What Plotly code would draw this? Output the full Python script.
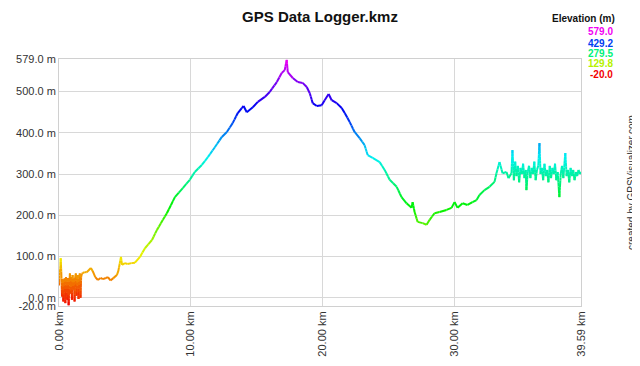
import colorsys
import plotly.graph_objects as go

dist_km = [
    0.00, 0.05, 0.10, 0.13, 0.18, 0.23, 0.28, 0.33, 0.38, 0.43, 0.48, 0.53, 0.58, 0.63,
    0.68, 0.73, 0.78, 0.83, 0.88, 0.93, 0.98, 1.03, 1.08, 1.13, 1.18, 1.23, 1.28, 1.33,
    1.38, 1.43, 1.48, 1.53, 1.58, 1.63, 1.68, 1.74,
    1.80, 1.95, 2.10, 2.42, 2.55, 2.75, 2.95, 3.15, 3.33, 3.55, 3.71, 3.90, 4.10, 4.39,
    4.50, 4.70, 4.78, 5.00, 5.20, 5.50, 5.76, 6.14, 6.52, 7.05, 7.42, 7.88, 8.18, 8.79,
    9.39, 9.92, 10.30, 10.83, 11.29, 11.82, 12.35, 12.73, 13.18, 13.56, 13.86, 14.00,
    14.24, 14.70, 15.08, 15.61, 15.98, 16.52, 16.89, 17.12, 17.27, 17.35, 17.73, 18.11,
    18.48, 18.79, 19.02, 19.24, 19.55, 19.92, 20.15, 20.45, 20.68, 21.06, 21.44, 21.67,
    22.05, 22.42, 22.80, 23.18, 23.41, 23.79, 24.32, 24.70, 25.08, 25.61, 25.98, 26.36,
    26.74, 26.82, 26.97, 27.20, 27.58, 27.88, 28.11, 28.48, 28.86, 29.39, 29.77, 30.00,
    30.23, 30.61, 30.98, 31.36, 31.67, 31.89, 32.27, 32.65, 33.03, 33.18, 33.41, 33.64,
    33.94, 34.09, 34.32, 34.39,
    34.50, 34.60, 34.70, 34.80, 34.90, 35.00, 35.10, 35.20, 35.30, 35.40, 35.45, 35.55,
    35.65, 35.75, 35.85, 35.95, 36.05, 36.15, 36.25, 36.35, 36.44, 36.52, 36.62, 36.72,
    36.82, 36.92, 37.02, 37.12, 37.22, 37.32, 37.42, 37.52, 37.62, 37.72, 37.82, 37.95,
    38.05, 38.15, 38.25, 38.40, 38.50, 38.60, 38.70, 38.80, 38.90, 39.00, 39.10, 39.20,
    39.30, 39.40, 39.50, 39.59,
]

elev_m = [
    30, 62, 70, 96, 55, 3, 45, -9, 40, 47, -13, 50, 39, -5,
    48, -18, 30, 59, 10, 50, -5, 55, 20, 47, -9, 50, 59, 5,
    45, 55, -3, 40, 59, 0, 50, 59,
    60, 62, 62, 72, 65, 50, 43, 48, 45, 48, 50, 42, 47, 55,
    65, 99, 80, 84, 82, 84, 85, 99, 120, 140, 164, 189, 205, 244,
    266, 286, 305, 322, 341, 365, 390, 402, 424, 448, 460, 465,
    450, 462, 475, 487, 499, 523, 545, 552, 577, 547, 533, 523,
    521, 511, 496, 472, 465, 467, 479, 494, 479, 472, 460, 448,
    426, 402, 387, 370, 346, 339, 329, 310, 286, 269, 244, 229,
    218, 232, 208, 184, 181, 177, 189, 205, 208, 213, 218, 232,
    218, 229, 225, 232, 237, 249, 261, 269, 281, 302, 329, 302,
    305, 290, 302, 358,
    285, 330, 295, 320, 280, 315, 300, 325, 290, 310, 261, 305,
    320, 290, 315, 300, 330, 285, 310, 320, 375, 300, 315, 285,
    325, 295, 310, 280, 320, 290, 315, 300, 325, 285, 305, 244,
    300, 320, 290, 351, 295, 310, 280, 315, 295, 310, 285, 305,
    295, 310, 300, 305,
]

y_tick_vals = [-20, 0, 100, 200, 300, 400, 500, 579]
y_tick_text = ["-20.0 m", "0.0 m", "100.0 m", "200.0 m", "300.0 m", "400.0 m", "500.0 m", "579.0 m"]
x_tick_vals = [0, 10, 20, 30, 39.59]
x_tick_text = ["0.00 km", "10.00 km", "20.00 km", "30.00 km", "39.59 km"]
legend_vals = [579.0, 429.2, 279.5, 129.8, -20.0]

E_MIN, E_MAX = -20.0, 579.0


def elev_color(e, v=0.95):
    t = min(max((e - E_MIN) / (E_MAX - E_MIN), 0), 1)
    r, g, b = colorsys.hsv_to_rgb(t * 300 / 360, 1.0, v)
    return "rgb(%d,%d,%d)" % (r * 255, g * 255, b * 255)


# colour each line segment by elevation; long vertical segments are drawn in
# several colour steps so the gradient follows the height (same straight line)
NBINS = 60
bins = {}
for i in range(len(dist_km) - 1):
    x0, x1 = dist_km[i], dist_km[i + 1]
    y0, y1 = elev_m[i], elev_m[i + 1]
    n = max(1, int(abs(y1 - y0) // 8))
    for k in range(n):
        a, c = k / n, (k + 1) / n
        xa, xb = x0 + (x1 - x0) * a, x0 + (x1 - x0) * c
        ya, yb = y0 + (y1 - y0) * a, y0 + (y1 - y0) * c
        mid = (ya + yb) / 2
        b = int(min(max((mid - E_MIN) / (E_MAX - E_MIN), 0), 0.9999) * NBINS)
        xs, ys = bins.setdefault(b, ([], []))
        xs += [xa, xb, None]
        ys += [ya, yb, None]

fig = go.Figure()
for b in sorted(bins):
    xs, ys = bins[b]
    e = E_MIN + (b + 0.5) / NBINS * (E_MAX - E_MIN)
    fig.add_trace(go.Scatter(x=xs, y=ys, mode="lines",
                             line=dict(color=elev_color(e), width=2),
                             hoverinfo="skip", showlegend=False, connectgaps=False))

font = "Liberation Sans, Arial, sans-serif"
# the page body adds an 8px margin, so the figure is drawn 8px in from the corner;
# keep the page no taller than the window so no scrollbar appears
W, H = 632, 350
fig.update_layout(
    width=W, height=H,
    margin=dict(l=51, r=59, t=51, b=52),
    paper_bgcolor="white", plot_bgcolor="white",
    font=dict(family=font, size=11, color="#333333"),
    title=dict(text="<b>GPS Data Logger.kmz</b>", x=312 / W, xanchor="center",
               y=1 - 9 / H, yanchor="middle", pad=dict(t=0, b=0),
               font=dict(family=font, size=15, color="#111111")),
    xaxis=dict(range=[0, 39.59], tickvals=x_tick_vals, ticktext=x_tick_text, tickangle=-90,
               showgrid=True, gridcolor="#d8d8d8", gridwidth=1, zeroline=False,
               showline=True, linecolor="#d0d0d0", mirror=True, ticks="", ticklen=0,
               automargin=False),
    yaxis=dict(range=[-20, 579], tickvals=y_tick_vals, ticktext=y_tick_text,
               showgrid=True, gridcolor="#d8d8d8", gridwidth=1, zeroline=False,
               showline=True, linecolor="#d0d0d0", mirror=True, ticks="", ticklen=0,
               automargin=False),
)

fig.add_annotation(text="<b>Elevation (m)</b>", xref="paper", yref="paper",
                   x=(617 - 59) / 522, y=(306 - 18) / 247, xanchor="right", yanchor="middle",
                   showarrow=False, font=dict(family=font, size=10, color="#111111"))
legend_y = [32, 43, 53, 64, 74]
for val, ypx in zip(legend_vals, legend_y):
    fig.add_annotation(text="<b>%.1f</b>" % val, xref="paper", yref="paper",
                       x=(615 - 59) / 522, y=(306 - ypx) / 247, xanchor="right", yanchor="middle",
                       showarrow=False, font=dict(family=font, size=10, color=elev_color(val, 0.95)))

fig.add_annotation(text="created by GPSVisualizer.com", xref="paper", yref="paper",
                   x=(631 - 59) / 522, y=(306 - 183) / 247, xanchor="center", yanchor="middle",
                   textangle=-90, showarrow=False, font=dict(family=font, size=10, color="#333333"))

fig.write_html("out.html")
